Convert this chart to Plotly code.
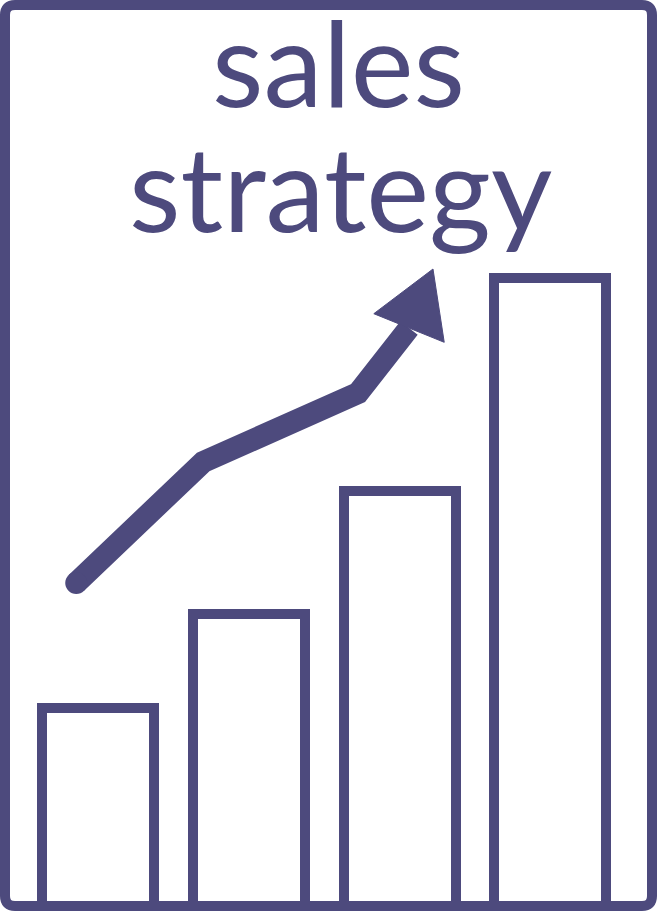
import math
import plotly.graph_objects as go

# ---- data ----
categories = ["Q1", "Q2", "Q3", "Q4"]
bar_values = [1.98, 2.92, 4.15, 6.28]
trend_x = [-0.146, 0.696, 1.724, 2.062]
trend_y = [3.23, 4.44, 5.13, 5.78]
arrow_tip = (2.221, 6.37)
title_lines = ["sales", "strategy"]

COLOR = "#4d4a7d"
W, H = 658, 912
X_RANGE = [-0.652, 3.714]
Y_RANGE = [-0.06, 9.06]

px_per_x = W / (X_RANGE[1] - X_RANGE[0])
px_per_y = H / (Y_RANGE[1] - Y_RANGE[0])

fig = go.Figure()

fig.add_trace(go.Bar(
    x=list(range(len(categories))), y=bar_values, width=0.743,
    marker=dict(color="white", line=dict(color=COLOR, width=10)),
    hoverinfo="skip", showlegend=False,
))

fig.add_trace(go.Scatter(
    x=trend_x, y=trend_y, mode="lines",
    line=dict(color=COLOR, width=22),
    hoverinfo="skip", showlegend=False,
))
fig.add_trace(go.Scatter(
    x=[trend_x[0]], y=[trend_y[0]], mode="markers",
    marker=dict(color=COLOR, size=22, line=dict(width=0)),
    hoverinfo="skip", showlegend=False,
))

# arrowhead derived from last trend point and tip (pixel space)
bx, by = trend_x[-1] * px_per_x, trend_y[-1] * px_per_y
tx, ty = arrow_tip[0] * px_per_x, arrow_tip[1] * px_per_y
dx, dy = tx - bx, ty - by
L = math.hypot(dx, dy)
ux, uy = dx / L, dy / L
hw = 38
c1 = (bx + hw * uy, by - hw * ux)
c2 = (bx - hw * uy, by + hw * ux)
tri_x = [tx / px_per_x, c1[0] / px_per_x, c2[0] / px_per_x, tx / px_per_x]
tri_y = [ty / px_per_y, c1[1] / px_per_y, c2[1] / px_per_y, ty / px_per_y]
fig.add_trace(go.Scatter(
    x=tri_x, y=tri_y, mode="lines", fill="toself",
    fillcolor=COLOR, line=dict(color=COLOR, width=1),
    hoverinfo="skip", showlegend=False,
))

# frame with rounded corners (paper coords)
def fx(p):
    return p / W

def fy(p):
    return 1 - p / H

x0, x1, y0, y1, r = 5, 652, 5, 906, 10
path = (
    f"M {fx(x0 + r)},{fy(y0)} L {fx(x1 - r)},{fy(y0)} "
    f"Q {fx(x1)},{fy(y0)} {fx(x1)},{fy(y0 + r)} "
    f"L {fx(x1)},{fy(y1 - r)} Q {fx(x1)},{fy(y1)} {fx(x1 - r)},{fy(y1)} "
    f"L {fx(x0 + r)},{fy(y1)} Q {fx(x0)},{fy(y1)} {fx(x0)},{fy(y1 - r)} "
    f"L {fx(x0)},{fy(y0 + r)} Q {fx(x0)},{fy(y0)} {fx(x0 + r)},{fy(y0)} Z"
)
fig.add_shape(type="path", path=path, xref="paper", yref="paper",
              line=dict(color=COLOR, width=10), layer="above")

for text, cx, cy in [(title_lines[0], 338, 61), (title_lines[1], 340, 186)]:
    fig.add_annotation(
        text=text, x=fx(cx), y=fy(cy), xref="paper", yref="paper",
        xanchor="center", yanchor="middle", showarrow=False,
        font=dict(family="Lato", size=119, color=COLOR),
    )

fig.update_layout(
    width=W, height=H, autosize=False,
    margin=dict(l=0, r=0, t=0, b=0, pad=0),
    paper_bgcolor="white", plot_bgcolor="white",
    xaxis=dict(range=X_RANGE, visible=False, fixedrange=True),
    yaxis=dict(range=Y_RANGE, visible=False, fixedrange=True),
    bargap=0,
)

fig.write_html("out.html", config={"displayModeBar": False})
